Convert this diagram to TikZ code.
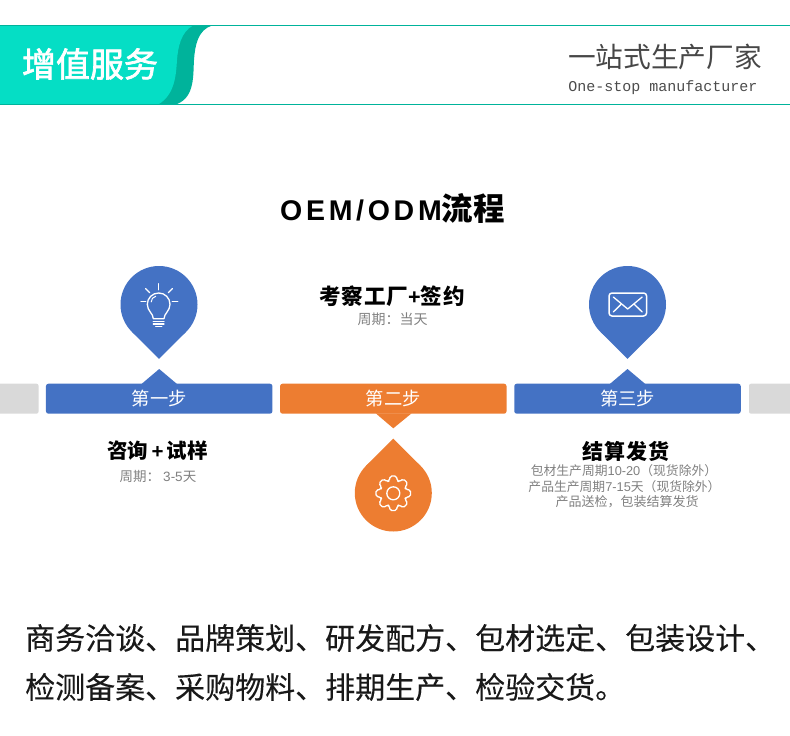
\documentclass[tikz,border=0pt]{standalone}
\usepackage{fontspec}
\setmainfont{Liberation Sans}
\newfontfamily\cjk{Noto Sans CJK SC}
\newfontfamily\cjkmed{Noto Sans CJK SC}[FakeBold=2]
\newfontfamily\cjkbody{Noto Sans CJK SC}[FakeBold=0.15]
\newfontfamily\cjkhead{Noto Sans CJK SC}[LetterSpace=4]
\newfontfamily\lathead{Liberation Sans}[LetterSpace=13]
\newfontfamily\monolat{Liberation Mono}
\usetikzlibrary{calc}
\definecolor{teallight}{HTML}{05DEC5}
\definecolor{tealdark}{HTML}{00B39B}
\definecolor{stepblue}{HTML}{4472C4}
\definecolor{steporange}{HTML}{ED7D31}
\definecolor{stepgray}{HTML}{D9D9D9}
\newcommand{\fpx}[1]{\fontsize{#1}{#1}\selectfont}
\newcommand{\lat}[1]{{\rmfamily #1}}

\begin{document}
\begin{tikzpicture}[
    x=1pt, y=-1pt,
    bar/.style={rounded corners=2.5pt, minimum width=226.5pt, minimum height=30pt, inner sep=0pt, text=white, font=\cjk\fpx{18.3}},
    sidebar/.style={fill=stepgray, rounded corners=2pt, minimum width=60pt, minimum height=30pt, inner sep=0pt},
    head/.style={inner sep=0pt, font=\cjkhead\bfseries\fpx{21}, text=black},
    sub/.style={inner sep=0pt, font=\cjk\fpx{12.8}, text=black!50, align=center},
    icon/.style={draw=white, line width=1.3pt, line cap=round, line join=round},
    pics/droppin/.style={code={
      \fill[pic actions] (0,0) circle (38.5);
      \fill[pic actions] (0,54.4) -- (27.2,27.2) -- (-27.2,27.2) -- cycle;
    }}
]
\useasboundingbox (0,0) rectangle (790,736);
\clip (0,0) rectangle (790,736);

% top band
\fill[tealdark] (0,25.5) -- (212,25.5) .. controls (198,30) and (195,45) .. (194,60)
    .. controls (193,75) and (195,97) .. (177,104) -- (0,104) -- cycle;
\fill[teallight] (0,25.5) -- (193,25.5) .. controls (181,32) and (178,47) .. (177,60)
    .. controls (176,75) and (175,94) .. (159,104) -- (0,104) -- cycle;
\coordinate (bandTL) at (0,25.5);
\coordinate (bandTR) at (790,25.5);
\coordinate (bandBL) at (0,104.3);
\coordinate (bandBR) at (790,104.3);
\draw[tealdark, line width=1.2pt] (bandTL) -- (bandTR);
\draw[tealdark, line width=1.2pt] (bandBL) -- (bandBR);
\node[inner sep=0pt, text=white, font=\cjkmed\fpx{34}] (band) at (90,64) {增值服务};
\node[inner sep=0pt, text=black!72, font=\cjk\fpx{27.7}] (slogan) at (665,57) {一站式生产厂家};
\node[inner sep=0pt, text=black!70, font=\monolat\fpx{15}] (sloganen) at (663,88) {One-stop manufacturer};

\node[inner sep=0pt, font=\bfseries\fpx{31.5}] (title) at (392.5,208.5) {{\lathead\fpx{28.5}OEM/ODM}{\cjk 流程}};

% bars
\node[sidebar] (grayL) at (8.5,398.7) {};
\node[sidebar] (grayR) at (779,398.7) {};
\node[bar, fill=stepblue] (s1) at (159.2,398.7) {第一步\hspace{3.4pt}};
\node[bar, fill=steporange] (s2) at (393.3,398.7) {第二步\hspace{3.4pt}};
\node[bar, fill=stepblue] (s3) at (627.5,398.7) {第三步\hspace{3.4pt}};
\fill[stepblue] (141.5,384) -- (159.2,369) -- (177,384) -- cycle;
\fill[steporange] (375.8,413.4) -- (393.3,428.3) -- (411.5,413.4) -- cycle;
\fill[stepblue] (609.8,384) -- (627.5,369) -- (645.3,384) -- cycle;

% pins
\pic[fill=stepblue] at (159,304.5) {droppin};
\pic[fill=steporange, yscale=-1] at (393.3,493) {droppin};
\pic[fill=stepblue] at (627.5,304.5) {droppin};

% bulb
\draw[icon] (153.3,318.7) .. controls (153.3,313.5) and (147.3,311) .. (147.3,304.3)
    .. controls (147.3,298) and (152.5,293) .. (158.7,293)
    .. controls (165,293) and (170,298) .. (170,304.3)
    .. controls (170,311) and (164,313.5) .. (164,318.7) -- cycle;
\draw[icon, line width=1pt] (151.2,302) .. controls (151.2,299) and (153,297) .. (155.7,296.3);
\draw[icon] (153.3,321.5) -- (164,321.5);
\draw[icon] (153.3,324.1) -- (164,324.1);
\draw[icon] (155.7,326.7) -- (161.7,326.7);
\draw[icon] (158.7,283.7) -- (158.7,289.7);
\draw[icon] (141,301.3) -- (145.7,301.3);
\draw[icon] (172.3,301.3) -- (177.7,301.3);
\draw[icon] (145.7,288.7) -- (149.7,292.7);
\draw[icon] (172.3,288.7) -- (168.3,292.7);

% gear
\coordinate (gear) at (393.3,493.3);
\draw[icon, rounded corners=1.8pt] ($(gear)+(11:17.6)$)
    \foreach \a in {0,45,...,315} {
      -- ($(gear)+(\a+11:17.6)$) -- ($(gear)+(\a+17:13)$) -- ($(gear)+(\a+28:13)$) -- ($(gear)+(\a+34:17.6)$)
    } -- cycle;
\draw[icon] (gear) circle (6.5);

% envelope
\draw[icon, line width=1.5pt, rounded corners=3pt] (609,293) rectangle (646.6,316);
\draw[icon] (613.3,297) -- (627.7,309) -- (642.2,297);
\draw[icon] (613.3,312) -- (621.2,304.2);
\draw[icon] (642.2,312) -- (634.2,304.2);

% captions
\node[head, font=\cjk\bfseries\fpx{20.5}] (h1) at (157.5,451) {咨询\hspace{3.5pt}\lat{+}\hspace{3.5pt}试样};
\node[sub, font=\cjk\fpx{13.5}] (t1) at (158,476) {周期：\hspace{3pt}\lat{3-5}天};
\node[head, font=\cjkhead\bfseries\fpx{21.6}] (h2) at (392,296) {考察工厂\lat{+}签约};
\node[sub, font=\cjk\fpx{14}] (t2) at (392.5,319) {周期：当天};
\node[head] (h3) at (626,451) {结算发货};
\node[sub] (t3a) at (624,471) {包材生产周期\lat{10-20}（现货除外）};
\node[sub] (t3b) at (624.5,487) {产品生产周期\lat{7-15}天（现货除外）};
\node[sub, font=\cjk\fpx{13}] (t3c) at (627,502) {产品送检，包装结算发货};

% bottom text
\node[inner sep=0pt, anchor=west, text=black!90, font=\cjkbody\fpx{30}] (body1) at (25,638) {商务洽谈、品牌策划、研发配方、包材选定、包装设计、};
\node[inner sep=0pt, anchor=west, text=black!90, font=\cjkbody\fpx{30}] (body2) at (25,687) {检测备案、采购物料、排期生产、检验交货。};
\end{tikzpicture}
\end{document}
